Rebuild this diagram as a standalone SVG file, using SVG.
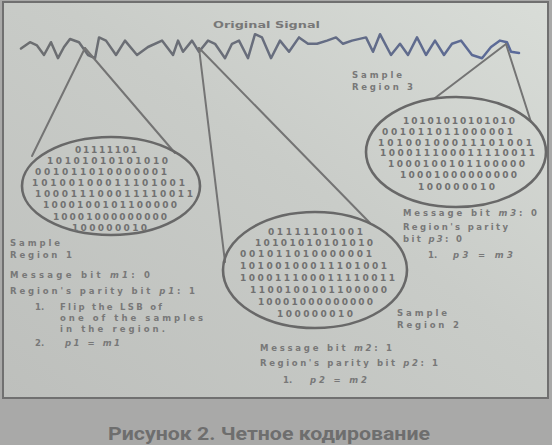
<svg xmlns="http://www.w3.org/2000/svg" width="552" height="445" viewBox="0 0 552 445">
  <defs>
    <linearGradient id="panelFill" x1="0" y1="1" x2="1" y2="0">
      <stop offset="0" stop-color="#bdbfbc"/>
      <stop offset="0.55" stop-color="#c9ccc8"/>
      <stop offset="1" stop-color="#d9ddd8"/>
    </linearGradient>
    <linearGradient id="waveStroke" gradientUnits="userSpaceOnUse" x1="20" y1="0" x2="520" y2="0">
      <stop offset="0" stop-color="#6c6e70"/>
      <stop offset="0.4" stop-color="#6a6e78"/>
      <stop offset="1" stop-color="#5a6a9a"/>
    </linearGradient>
    <style>
      .edge { stroke: #747474; stroke-width: 2; fill: none; stroke-linecap: round; }
      .region { stroke: #686868; stroke-width: 2.6; fill: none; }
      .bits { font-family: "DejaVu Sans", sans-serif; font-weight: bold; font-size: 9px; fill: #717171; }
      .lbl { font-family: "DejaVu Sans", sans-serif; font-weight: bold; font-size: 8.5px; fill: #787878; }
      .var { font-style: italic; }
      .caption { font-family: Roboto, "Liberation Sans", sans-serif; font-weight: bold; font-size: 19px; fill: #6e6e6e; }
    </style>
  </defs>

  <!-- slide background and panel -->
  <rect x="0" y="0" width="552" height="445" fill="#a9a9a8"/>
  <rect x="3" y="2" width="545" height="396" fill="url(#panelFill)" stroke="#707070" stroke-width="2"/>

  <!-- signal trace -->
  <g id="signal">
    <text class="lbl" x="213" y="28" textLength="107" lengthAdjust="spacingAndGlyphs">Original Signal</text>
    <polyline fill="none" stroke="url(#waveStroke)" stroke-width="2.5" stroke-linejoin="round" stroke-linecap="round"
      points="21,48.6 30,42.2 37,45.4 44,55 51,42.2 58,58.2 64,47 70,39 79,42.2 88,55 95,58.2 99,37.4 106,40.6 116,55 125,40.6 137,55 148,47 162,40.6 173,55 178,40.6 183,51.8 192,40.6 199,51.8 208,40.6 215,43.8 225,58.2 232,43.8 239,40.6 248,58.2 255,34.2 262,37.4 271,58.2 280,40.6 289,51.8 299,37.4 308,43.8 317,43.8 327,40.6 336,37.4 343,43.8 352,40.6 366,37.4 373,51.8 380,34.2 391,55 400,43.8 408,55 417,37.4 426,55 435,40.6 444,55 452,43.8 461,40.6 472,55 482,58.2 491,47 500,40.6 507,42.2 511,51.8 519,53"/>
  </g>

  <!-- zoom lines from the signal to each sample region -->
  <g id="connectors">
    <line class="edge" x1="85" y1="48" x2="32" y2="156"/>
    <line class="edge" x1="85" y1="48" x2="175" y2="153"/>
    <line class="edge" x1="199" y1="48" x2="225" y2="262"/>
    <line class="edge" x1="199" y1="48" x2="370" y2="223"/>
    <line class="edge" x1="506" y1="44" x2="435" y2="98"/>
    <line class="edge" x1="506" y1="44" x2="531" y2="122"/>
  </g>

  <!-- sample region 1 -->
  <g id="region1">
    <ellipse class="region" cx="111" cy="186" rx="89" ry="49"/>
    <text class="bits" x="75" y="153" textLength="62">01111101</text>
    <text class="bits" x="47" y="164" textLength="121">10101010101010</text>
    <text class="bits" x="35" y="175" textLength="132">001011010000001</text>
    <text class="bits" x="32" y="186" textLength="153">10100100011101001</text>
    <text class="bits" x="35" y="197" textLength="158">100011100011110011</text>
    <text class="bits" x="43" y="208" textLength="134">1000100101100000</text>
    <text class="bits" x="53" y="220" textLength="114">10001000000000</text>
    <text class="bits" x="72" y="231" textLength="75">100000010</text>
    <text class="lbl" x="10" y="246" textLength="50">Sample</text>
    <text class="lbl" x="10" y="258" textLength="62">Region 1</text>
    <text class="lbl" x="10" y="278" textLength="140">Message bit <tspan class="var">m1</tspan>:  0</text>
    <text class="lbl" x="10" y="294" textLength="185">Region's parity bit <tspan class="var">p1</tspan>:  1</text>
    <text class="lbl" x="35" y="310">1.</text>
    <text class="lbl" x="60" y="310" textLength="102">Flip the LSB of</text>
    <text class="lbl" x="60" y="321" textLength="143">one of the samples</text>
    <text class="lbl" x="60" y="332" textLength="105">in the region.</text>
    <text class="lbl" x="35" y="346">2.</text>
    <text class="lbl" x="65" y="346" textLength="55"><tspan class="var">p1</tspan> = <tspan class="var">m1</tspan></text>
  </g>

  <!-- sample region 2 -->
  <g id="region2">
    <ellipse class="region" cx="315" cy="270" rx="92" ry="58"/>
    <text class="bits" x="268" y="235" textLength="95">01111101001</text>
    <text class="bits" x="255" y="246" textLength="118">10101010101010</text>
    <text class="bits" x="240" y="257" textLength="132">001011010000001</text>
    <text class="bits" x="240" y="269" textLength="147">10100100011101001</text>
    <text class="bits" x="240" y="281" textLength="155">100011100011110011</text>
    <text class="bits" x="250" y="293" textLength="137">1100100101100000</text>
    <text class="bits" x="258" y="305" textLength="115">10001000000000</text>
    <text class="bits" x="277" y="317" textLength="76">100000010</text>
    <text class="lbl" x="397" y="316" textLength="50">Sample</text>
    <text class="lbl" x="397" y="328" textLength="62">Region 2</text>
    <text class="lbl" x="260" y="351" textLength="132">Message bit <tspan class="var">m2</tspan>: 1</text>
    <text class="lbl" x="260" y="366" textLength="178">Region's parity bit <tspan class="var">p2</tspan>: 1</text>
    <text class="lbl" x="283" y="383">1.</text>
    <text class="lbl" x="310" y="383" textLength="57"><tspan class="var">p2</tspan> = <tspan class="var">m2</tspan></text>
  </g>

  <!-- sample region 3 -->
  <g id="region3">
    <ellipse class="region" cx="456" cy="152" rx="90" ry="55"/>
    <text class="lbl" x="352" y="78" textLength="50">Sample</text>
    <text class="lbl" x="352" y="90" textLength="61">Region 3</text>
    <text class="bits" x="403" y="124" textLength="112">10101010101010</text>
    <text class="bits" x="382" y="135" textLength="131">001011011000001</text>
    <text class="bits" x="378" y="146" textLength="154">10100100011101001</text>
    <text class="bits" x="380" y="156" textLength="155">100011100011110011</text>
    <text class="bits" x="388" y="167" textLength="137">1000100101100000</text>
    <text class="bits" x="400" y="178" textLength="117">10001000000000</text>
    <text class="bits" x="418" y="190" textLength="77">100000010</text>
    <text class="lbl" x="403" y="216" textLength="134">Message bit <tspan class="var">m3</tspan>: 0</text>
    <text class="lbl" x="403" y="230" textLength="105">Region's parity</text>
    <text class="lbl" x="403" y="242" textLength="59">bit <tspan class="var">p3</tspan>: 0</text>
    <text class="lbl" x="428" y="258">1.</text>
    <text class="lbl" x="453" y="258" textLength="60"><tspan class="var">p3</tspan> = <tspan class="var">m3</tspan></text>
  </g>

  <text class="caption" x="108" y="440" textLength="322" lengthAdjust="spacingAndGlyphs">Рисунок 2. Четное кодирование</text>
</svg>
